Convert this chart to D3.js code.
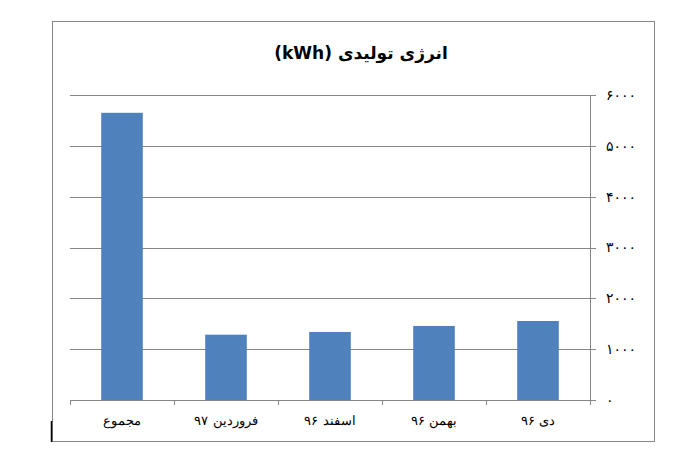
<!DOCTYPE html>
<html>
<head>
<meta charset="utf-8">
<script src="https://cdn.jsdelivr.net/npm/d3@7"></script>
<style>
  html, body { margin: 0; padding: 0; background: #fff; }
  svg { display: block; }
</style>
</head>
<body>
<svg id="chart" width="691" height="467"></svg>
<script>
// ---- data ----
const categories = ["مجموع", "فروردین ۹۷", "اسفند ۹۶", "بهمن ۹۶", "دی ۹۶"];
const values = [5650, 1285, 1338, 1456, 1554];
const yTicks = [0, 1000, 2000, 3000, 4000, 5000, 6000];
const yTickLabels = ["۰", "۱۰۰۰", "۲۰۰۰", "۳۰۰۰", "۴۰۰۰", "۵۰۰۰", "۶۰۰۰"];
const title = "انرژی تولیدی (kWh)";

// ---- layout ----
const svg = d3.select("#chart");
const plot = { left: 70, right: 590, top: 95, bottom: 400 };
const font = "'DejaVu Sans', 'Noto Sans', sans-serif";
const gray = "#868686";

// outer chart border
svg.append("rect")
  .attr("x", 52.5).attr("y", 21.5)
  .attr("width", 602).attr("height", 420)
  .attr("fill", "#fff").attr("stroke", gray).attr("stroke-width", 1);

// cursor artifact
svg.append("line")
  .attr("x1", 51.5).attr("x2", 51.5).attr("y1", 421).attr("y2", 442)
  .attr("stroke", "#000").attr("stroke-width", 1.5);

const x = d3.scaleBand()
  .domain(categories)
  .range([plot.left, plot.right])
  .paddingInner(0.6)
  .paddingOuter(0.3);

const y = d3.scaleLinear()
  .domain([0, 6000])
  .range([plot.bottom, plot.top]);

// gridlines
const grid = svg.append("g")
  .attr("transform", `translate(${plot.right},0)`)
  .call(d3.axisLeft(y).tickValues(yTicks).tickSize(plot.right - plot.left).tickFormat(""));
grid.select(".domain").remove();
grid.selectAll("line").attr("stroke", gray).attr("stroke-width", 1)
  .attr("shape-rendering", "crispEdges");

// bars
svg.append("g").selectAll("rect")
  .data(values)
  .join("rect")
  .attr("x", (d, i) => x(categories[i]))
  .attr("width", x.bandwidth())
  .attr("y", d => y(d))
  .attr("height", d => y(0) - y(d))
  .attr("fill", "#4F81BD");

// y axis on right
const yAxis = svg.append("g")
  .attr("transform", `translate(${plot.right},0)`)
  .call(d3.axisRight(y).tickValues(yTicks).tickSize(6).tickSizeOuter(0).tickPadding(10)
    .tickFormat((d, i) => yTickLabels[i]));
yAxis.select(".domain").attr("stroke", gray).attr("shape-rendering", "crispEdges");
yAxis.selectAll(".tick line").attr("stroke", gray).attr("shape-rendering", "crispEdges");
yAxis.selectAll(".tick text")
  .attr("font-family", font).attr("font-size", 14).attr("fill", "#000")
  .attr("text-anchor", "start").attr("direction", "ltr").attr("x", 16);

// x axis
const xAxis = svg.append("g")
  .attr("transform", `translate(0,${plot.bottom})`)
  .call(d3.axisBottom(x).tickSize(0).tickPadding(16));
xAxis.select(".domain").attr("stroke", gray).attr("shape-rendering", "crispEdges")
  .attr("d", `M${plot.left},0H${plot.right}`);
xAxis.selectAll(".tick text")
  .attr("font-family", font).attr("font-size", 13).attr("font-weight", 300).attr("fill", "#000")
  .attr("direction", "rtl");
// category boundary tick marks
const step = (plot.right - plot.left) / categories.length;
xAxis.append("g").selectAll("line")
  .data(d3.range(categories.length + 1))
  .join("line")
  .attr("x1", i => Math.round(plot.left + i * step) + 0.5)
  .attr("x2", i => Math.round(plot.left + i * step) + 0.5)
  .attr("y1", 0).attr("y2", 5)
  .attr("stroke", gray);

// title
svg.append("text")
  .attr("x", 361).attr("y", 59)
  .attr("text-anchor", "middle")
  .attr("direction", "rtl")
  .attr("font-family", font)
  .attr("font-weight", "bold")
  .attr("font-size", 17)
  .attr("fill", "#000")
  .text(title);
</script>
</body>
</html>
